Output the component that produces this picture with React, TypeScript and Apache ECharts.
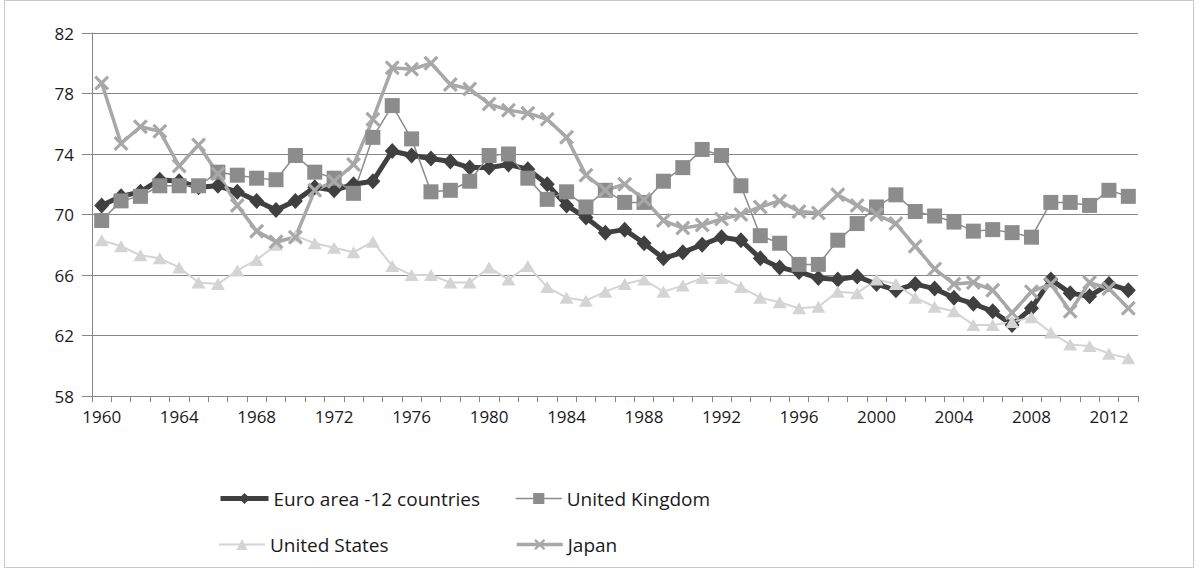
import React, { useEffect, useRef } from "react";
import * as echarts from "echarts";

const years: string[] = [];
for (let y = 1960; y <= 2013; y++) years.push(String(y));

const euroArea = [
  70.6, 71.2, 71.5, 72.3, 72.2, 71.8, 71.9, 71.5, 70.9, 70.3,
  70.9, 71.8, 71.6, 72.0, 72.2, 74.2, 73.9, 73.7, 73.5, 73.1,
  73.1, 73.3, 73.0, 72.0, 70.6, 69.8, 68.8, 69.0, 68.1, 67.1,
  67.5, 68.0, 68.5, 68.3, 67.1, 66.5, 66.2, 65.8, 65.7, 65.9,
  65.4, 65.0, 65.4, 65.1, 64.5, 64.1, 63.6, 62.7, 63.8, 65.7,
  64.8, 64.6, 65.4, 65.0,
];
const unitedKingdom = [
  69.6, 70.9, 71.2, 71.9, 71.9, 71.9, 72.8, 72.6, 72.4, 72.3,
  73.9, 72.8, 72.4, 71.4, 75.1, 77.2, 75.0, 71.5, 71.6, 72.2,
  73.9, 74.0, 72.4, 71.0, 71.5, 70.5, 71.6, 70.8, 70.8, 72.2,
  73.1, 74.3, 73.9, 71.9, 68.6, 68.1, 66.7, 66.7, 68.3, 69.4,
  70.5, 71.3, 70.2, 69.9, 69.5, 68.9, 69.0, 68.8, 68.5, 70.8,
  70.8, 70.6, 71.6, 71.2,
];
const unitedStates = [
  68.3, 67.9, 67.3, 67.1, 66.5, 65.5, 65.4, 66.3, 67.0, 68.0,
  68.6, 68.1, 67.8, 67.5, 68.2, 66.6, 66.0, 66.0, 65.5, 65.5,
  66.5, 65.7, 66.6, 65.2, 64.5, 64.3, 64.9, 65.4, 65.7, 64.9,
  65.3, 65.8, 65.8, 65.2, 64.5, 64.2, 63.8, 63.9, 64.9, 64.8,
  65.7, 65.4, 64.5, 63.9, 63.6, 62.7, 62.7, 62.9, 63.2, 62.2,
  61.4, 61.3, 60.8, 60.5,
];
const japan = [
  78.7, 74.7, 75.8, 75.5, 73.2, 74.6, 72.7, 70.6, 68.9, 68.2,
  68.5, 71.6, 72.2, 73.3, 76.3, 79.7, 79.6, 80.0, 78.6, 78.3,
  77.3, 76.9, 76.7, 76.3, 75.1, 72.6, 71.6, 72.0, 71.0, 69.6,
  69.1, 69.3, 69.7, 70.0, 70.5, 70.9, 70.2, 70.1, 71.3, 70.6,
  70.0, 69.4, 67.9, 66.4, 65.4, 65.5, 65.0, 63.5, 64.9, 65.4,
  63.6, 65.5, 65.1, 63.8,
];

const seriesNames = ["Euro area -12 countries", "United Kingdom", "United States", "Japan"];

const FONT = "'Open Sans', 'Noto Sans', sans-serif";
const CROSS =
  "path://M0,1.5 L1.5,0 L5,3.5 L8.5,0 L10,1.5 L6.5,5 L10,8.5 L8.5,10 L5,6.5 L1.5,10 L0,8.5 L3.5,5 Z";

export default function App() {
  const ref = useRef<HTMLDivElement>(null);
  useEffect(() => {
    if (!ref.current) return;
    const chart = echarts.init(ref.current, undefined, { renderer: "svg" });
    const legendText = { fontFamily: FONT, fontSize: 19, color: "#1a1a1a" };
    const mkLegend = (name: string, left: number, top: number, w: number, lw: number) => ({
      data: [name],
      left,
      top,
      orient: "horizontal",
      itemWidth: w,
      itemHeight: 14,
      itemGap: 4,
      padding: 0,
      lineStyle: { width: lw },
      textStyle: legendText,
    });
    chart.setOption({
      animation: false,
      backgroundColor: "#ffffff",
      grid: { left: 92, right: 62, top: 33, bottom: 175, containLabel: false },
      legend: [
        mkLegend(seriesNames[0], 218, 489, 48, 5),
        mkLegend(seriesNames[1], 515, 489, 46, 1.5),
        mkLegend(seriesNames[2], 218, 535, 46, 2),
        mkLegend(seriesNames[3], 515, 535, 46, 3.5),
      ],
      graphic: [
        {
          type: "rect",
          shape: { x: 4.5, y: 0.5, width: 1189, height: 567 },
          style: { fill: "none", stroke: "#c8c8c8", lineWidth: 1 },
          silent: true,
        },
      ],
      xAxis: {
        type: "category",
        data: years,
        boundaryGap: true,
        axisLine: { lineStyle: { color: "#868686", width: 1 } },
        axisTick: { show: true, alignWithLabel: false, interval: 0, length: 6, lineStyle: { color: "#868686" } },
        axisLabel: {
          interval: 3,
          fontFamily: FONT,
          fontSize: 17,
          color: "#1a1a1a",
          margin: 12,
        },
        splitLine: { show: false },
      },
      yAxis: {
        type: "value",
        min: 58,
        max: 82,
        interval: 4,
        axisLine: { show: true, lineStyle: { color: "#868686", width: 1 } },
        axisTick: { show: true, length: 10, lineStyle: { color: "#868686" } },
        axisLabel: { fontFamily: FONT, fontSize: 17, color: "#1a1a1a", margin: 18 },
        splitLine: { show: true, lineStyle: { color: "#868686", width: 1 } },
      },
      series: [
        {
          name: seriesNames[0],
          type: "line",
          data: euroArea,
          showAllSymbol: true,
          symbol: "diamond",
          symbolSize: [15, 16],
          lineStyle: { color: "#404040", width: 5 },
          itemStyle: { color: "#404040" },
        },
        {
          name: seriesNames[1],
          type: "line",
          data: unitedKingdom,
          showAllSymbol: true,
          symbol: "rect",
          symbolSize: 15,
          lineStyle: { color: "#8c8c8c", width: 1.5 },
          itemStyle: { color: "#8c8c8c" },
        },
        {
          name: seriesNames[2],
          type: "line",
          data: unitedStates,
          showAllSymbol: true,
          symbol: "triangle",
          symbolSize: [14, 12],
          lineStyle: { color: "#d4d4d4", width: 2 },
          itemStyle: { color: "#d4d4d4" },
        },
        {
          name: seriesNames[3],
          type: "line",
          data: japan,
          showAllSymbol: true,
          symbol: CROSS,
          symbolSize: 15,
          lineStyle: { color: "#a8a8a8", width: 3.5 },
          itemStyle: { color: "#a8a8a8" },
        },
      ],
    });
    return () => chart.dispose();
  }, []);
  return <div ref={ref} style={{ width: 1200, height: 571, position: "absolute", left: 0, top: 0 }} />;
}
